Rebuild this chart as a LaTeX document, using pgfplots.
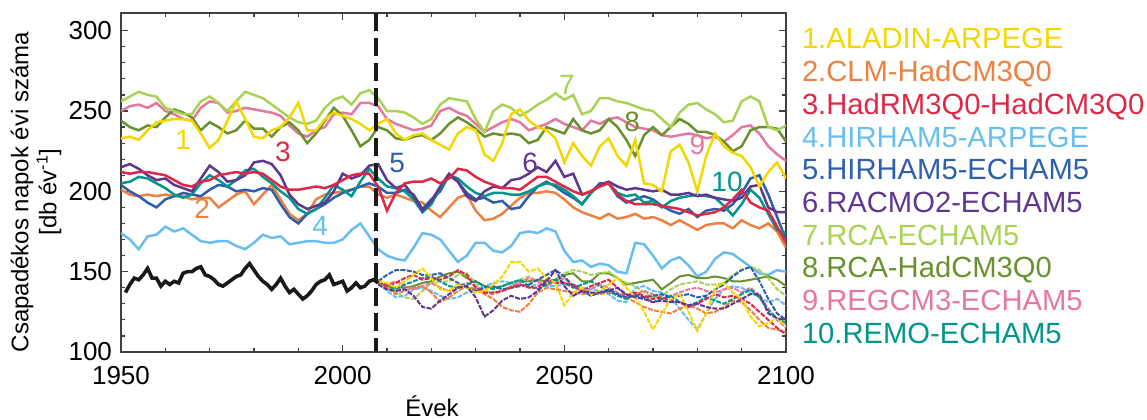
\documentclass[border=0pt]{standalone}
\usepackage{pgfplots}
\pgfplotsset{compat=1.18}
\usepackage{pgfplotstable}
\usepackage{fontspec}
\setmainfont{Liberation Sans}
\definecolor{c1}{RGB}{245,215,0}
\definecolor{c2}{RGB}{238,128,64}
\definecolor{c3}{RGB}{222,40,70}
\definecolor{c4}{RGB}{105,190,240}
\definecolor{c5}{RGB}{45,95,170}
\definecolor{c6}{RGB}{95,55,145}
\definecolor{c7}{RGB}{170,210,85}
\definecolor{c8}{RGB}{105,145,45}
\definecolor{c9}{RGB}{230,120,160}
\definecolor{c10}{RGB}{0,150,140}
\pgfplotstableread{
year s1 s2 s3 s4 s5 s6 s7 s8 s9 s10
1950 233 201 212 174 204 215 256 244 250 205
1952 234 198 211 170 200 217 259 240 253 206
1954 232 197 212 164 197 214 262 238 254 209
1956 238 198 212 172 193 210 260 241 252 208
1958 243 197 211 173 190 207 259 240 255 205
1960 244 198 210 178 195 208 252 246 250 202
1962 245 197 207 175 197 204 250 251 248 198
1964 245 197 204 177 199 202 248 249 245 196
1966 244 195 203 173 198 200 248 246 244 198
1968 236 196 206 169 197 208 256 238 252 205
1970 227 196 207 168 201 216 259 243 256 210
1972 232 190 210 169 204 212 255 240 255 207
1974 244 194 211 169 203 206 250 236 249 203
1976 256 198 212 166 200 207 256 238 250 207
1978 245 200 211 164 201 210 262 244 252 213
1980 234 192 212 168 200 218 260 239 251 214
1982 233 198 211 173 202 219 258 239 250 209
1984 238 204 207 171 201 217 254 234 249 205
1986 240 195 203 172 192 210 250 240 247 200
1988 246 186 201 167 184 198 246 243 241 196
1990 255 182 201 168 180 192 243 238 236 189
1992 238 186 202 169 186 189 242 230 234 186
1994 238 195 203 169 189 191 244 236 238 189
1996 245 198 202 168 192 193 252 244 240 196
1998 249 199 204 168 196 200 257 252 248 204
2000 247 200 207 170 199 211 259 247 249 201
2002 245 201 210 176 201 208 254 238 248 197
2004 242 203 211 180 203 210 261 228 255 206
2006 238 203 211 172 205 216 263 232 255 214
2008 242 198 203 164 203 217 258 240 253 208
2010 245 196 188 160 199 207 250 238 245 203
2012 236 198 199 158 199 202 250 233 242 202
2014 232 196 205 157 201 204 249 232 240 200
2016 235 194 206 165 198 197 246 234 238 195
2018 236 193 206 174 189 188 242 235 239 187
2020 232 188 208 173 195 194 245 232 241 192
2022 229 184 205 170 200 203 254 236 250 202
2024 226 190 208 163 210 211 258 242 252 210
2026 236 196 214 156 206 206 257 246 249 208
2028 240 198 213 160 199 197 256 243 247 203
2030 238 188 209 168 195 194 245 239 242 199
2032 223 182 206 168 196 200 237 234 237 197
2034 219 183 204 163 193 203 250 236 240 199
2036 230 186 202 162 194 202 254 235 243 199
2038 248 191 202 166 189 207 252 236 245 198
2040 251 196 201 174 190 208 247 235 243 198
2042 244 199 205 175 197 211 250 230 238 200
2044 240 199 209 174 203 215 254 232 240 203
2046 238 200 209 177 206 212 257 240 242 205
2048 233 199 206 175 203 219 261 238 245 204
2050 218 195 203 163 199 209 257 236 242 201
2052 230 190 200 156 196 211 260 245 240 197
2054 222 187 198 157 192 198 248 238 238 192
2056 216 185 200 153 199 200 250 236 244 199
2058 228 183 203 155 205 204 258 238 242 204
2060 233 186 205 154 205 206 258 245 245 205
2062 222 183 198 150 197 203 256 240 246 199
2064 216 184 194 149 193 201 255 232 243 197
2066 232 186 192 168 195 202 253 222 240 198
2068 205 183 192 167 197 201 251 235 239 193
2070 204 184 192 160 195 200 250 240 238 194
2072 200 182 191 152 191 201 245 235 235 190
2074 225 179 190 157 188 198 240 240 234 194
2076 229 182 189 159 186 198 249 245 235 196
2078 218 179 187 154 189 199 254 242 236 197
2080 200 176 185 147 184 197 255 237 235 198
2082 222 179 186 150 188 198 251 237 233 197
2084 236 180 187 158 189 196 248 235 234 196
2086 228 180 190 162 188 195 243 231 231 191
2088 224 177 195 161 192 194 244 225 235 185
2090 222 182 201 157 199 196 256 228 240 192
2092 215 179 193 153 208 203 259 238 241 201
2094 203 177 190 149 210 204 256 240 236 196
2096 212 180 188 148 198 190 240 240 228 186
2098 218 175 178 151 184 187 238 239 223 176
2100 208 165 168 150 170 187 241 231 219 174
}\models
\pgfplotstableread{
year c1 c2 c3 c4 c5 c6 c7 c8 c9 c10
2008 144 144 144 143 144 142 145 144 144 144
2010 143 140 141 138 148 139 142 141 142 141
2012 140 136 143 134 151 138 137 140 144 139
2014 144 138 146 135 151 139 134 140 141 142
2016 148 140 148 139 150 135 133 141 139 144
2018 152 141 145 140 148 128 138 143 141 146
2020 146 137 146 138 148 127 143 144 143 147
2022 139 131 145 135 149 132 144 147 140 144
2024 138 134 147 133 146 136 144 149 138 141
2026 142 138 151 134 143 140 148 150 141 140
2028 140 141 148 137 140 141 149 146 143 142
2030 137 139 140 139 138 134 143 144 141 144
2032 138 136 137 141 140 122 138 141 137 141
2034 142 133 137 143 141 126 137 140 136 139
2036 147 128 138 144 139 132 138 141 138 141
2038 156 126 140 143 140 135 141 143 141 143
2040 156 125 142 142 141 133 145 144 143 145
2042 150 130 140 141 142 134 147 144 146 141
2044 152 137 140 142 145 138 144 145 144 139
2046 146 140 145 141 148 144 142 144 141 142
2048 143 139 143 141 151 151 144 145 144 145
2050 129 138 143 142 147 141 149 148 146 143
2052 137 137 142 142 141 135 151 149 141 140
2054 140 136 138 140 138 138 150 144 137 142
2056 136 137 141 139 135 137 148 144 139 144
2058 138 136 143 138 137 137 149 149 142 141
2060 142 137 145 136 139 138 150 149 140 138
2062 146 136 140 132 136 140 146 146 137 135
2064 140 134 135 131 134 136 143 142 134 133
2066 134 131 137 140 135 134 141 143 136 136
2068 125 128 135 141 134 133 137 144 138 134
2070 114 126 133 138 135 131 134 145 136 131
2072 124 125 134 137 136 132 135 139 133 133
2074 133 124 132 134 134 131 139 143 135 135
2076 136 127 131 127 135 131 142 147 137 131
2078 125 129 128 120 136 129 143 148 139 129
2080 113 127 130 114 134 130 144 146 140 131
2082 124 124 133 124 135 128 142 146 138 134
2084 140 125 136 133 139 127 142 147 137 132
2086 143 128 134 139 142 127 143 146 139 130
2088 137 132 135 141 147 130 148 144 140 133
2090 133 131 133 140 151 133 151 144 137 136
2092 122 126 130 137 153 136 153 145 140 139
2094 116 120 125 134 144 136 151 146 135 134
2096 118 115 120 131 133 124 146 147 127 126
2098 121 114 115 133 124 121 139 145 120 121
2100 116 112 111 129 120 120 135 141 115 118
}\corrected
\pgfplotstableread{
year obs
1951 137
1952 142
1953 146
1954 145
1955 148
1956 152
1957 146
1958 146
1959 141
1960 144
1961 142
1962 144
1963 143
1964 149
1965 150
1966 150
1967 152
1968 153
1969 148
1970 147
1971 145
1972 142
1973 141
1974 143
1975 145
1976 147
1977 148
1978 152
1979 155
1980 151
1981 147
1982 144
1983 142
1984 139
1985 142
1986 146
1987 141
1988 137
1989 139
1990 136
1991 133
1992 135
1993 138
1994 142
1995 144
1996 145
1997 148
1998 142
1999 143
2000 144
2001 138
2002 140
2003 143
2004 140
2005 141
2006 144
2007 145
2008 143
}\observed
\begin{document}
\begin{tikzpicture}
\begin{axis}[
  at={(0,0)}, anchor=south west,
  scale only axis, width=332.5pt, height=169.5pt,
  xmin=1950, xmax=2100, ymin=100, ymax=311,
  xtick={1950,2000,2050,2100}, ytick={100,150,200,250,300},
  minor xtick={1960,1970,...,2090}, minor ytick={110,120,...,300},
  tick align=inside, major tick length=3.5pt, minor tick length=2.2pt,
  axis line style={black!75, line width=0.8pt},
  every tick/.style={black!75, line width=0.6pt},
  ticklabel style={font=\fontsize{13}{14}\selectfont},
  xticklabel style={yshift=-3.5pt},
  yticklabel style={xshift=-1pt},
  /pgf/number format/assume math mode=true,
  /pgf/number format/1000 sep={},
  no markers,
]
\addplot[c4, line width=1.25pt] table[x=year, y=s4] {\models};
\addplot[c2, line width=1.25pt] table[x=year, y=s2] {\models};
\addplot[c5, line width=1.25pt] table[x=year, y=s5] {\models};
\addplot[c10, line width=1.25pt] table[x=year, y=s10] {\models};
\addplot[c6, line width=1.25pt] table[x=year, y=s6] {\models};
\addplot[c3, line width=1.25pt] table[x=year, y=s3] {\models};
\addplot[c9, line width=1.25pt] table[x=year, y=s9] {\models};
\addplot[c8, line width=1.25pt] table[x=year, y=s8] {\models};
\addplot[c7, line width=1.25pt] table[x=year, y=s7] {\models};
\addplot[c1, line width=1.25pt] table[x=year, y=s1] {\models};
\addplot[c8, line width=1pt] table[x=year, y=c8] {\corrected};
\addplot[c7, line width=1pt, dash pattern=on 2.5pt off 0.7pt] table[x=year, y=c7] {\corrected};
\addplot[c4, line width=1pt, dash pattern=on 2.5pt off 0.7pt] table[x=year, y=c4] {\corrected};
\addplot[c2, line width=1pt, dash pattern=on 2.5pt off 0.7pt] table[x=year, y=c2] {\corrected};
\addplot[c9, line width=1pt, dash pattern=on 2.5pt off 0.7pt] table[x=year, y=c9] {\corrected};
\addplot[c10, line width=1pt, dash pattern=on 2.5pt off 0.7pt] table[x=year, y=c10] {\corrected};
\addplot[c5, line width=1pt, dash pattern=on 2.5pt off 0.7pt] table[x=year, y=c5] {\corrected};
\addplot[c3, line width=1pt, dash pattern=on 2.5pt off 0.7pt] table[x=year, y=c3] {\corrected};
\addplot[c1, line width=1pt, dash pattern=on 2.5pt off 0.7pt] table[x=year, y=c1] {\corrected};
\addplot[c6, line width=1pt, dash pattern=on 2.5pt off 0.7pt] table[x=year, y=c6] {\corrected};
\addplot[black!90, line width=1.8pt] table[x=year, y=obs] {\observed};
\addplot[black!90, line width=1.6pt, dash pattern=on 9pt off 3.5pt] coordinates {(2007.5,311) (2007.5,100)};
\begin{scope}[font=\fontsize{14}{16}\selectfont]
\node[text=c1] at (axis cs:1964,232) {1};
\node[text=c2] at (axis cs:1968.3,189.4) {2};
\node[text=c3] at (axis cs:1986.5,224.4) {3};
\node[text=c4] at (axis cs:1994.9,178.3) {4};
\node[text=c5] at (axis cs:2012.3,217.5) {5};
\node[text=c6] at (axis cs:2042.3,217.5) {6};
\node[text=c7] at (axis cs:2050.6,266.4) {7};
\node[text=c8] at (axis cs:2065.3,243.3) {8};
\node[text=c9] at (axis cs:2080,229) {9};
\node[text=c10] at (axis cs:2086.7,205.9) {10};
\end{scope}
\end{axis}
\node[rotate=90, align=center, font=\fontsize{12}{14}\selectfont] at (-42.5pt,80pt) {Csapadékos napok évi száma\\{[}db év\textsuperscript{-1}{]}};
\node[anchor=base, inner sep=0pt, font=\fontsize{12}{14}\selectfont] at (155.5pt,-32pt) {Évek};
\begin{scope}[font=\fontsize{14.6}{16}\selectfont, inner sep=0pt, anchor=base west]
\node[text=c1, anchor=base west] at (340.3pt,151.55pt) {1.ALADIN-ARPEGE};
\node[text=c2, anchor=base west] at (340.3pt,135.2pt) {2.CLM-HadCM3Q0};
\node[text=c3, anchor=base west] at (340.3pt,118.85pt) {3.HadRM3Q0-HadCM3Q0};
\node[text=c4, anchor=base west] at (340.3pt,102.5pt) {4.HIRHAM5-ARPEGE};
\node[text=c5, anchor=base west] at (340.3pt,86.15pt) {5.HIRHAM5-ECHAM5};
\node[text=c6, anchor=base west] at (340.3pt,69.8pt) {6.RACMO2-ECHAM5};
\node[text=c7, anchor=base west] at (340.3pt,53.45pt) {7.RCA-ECHAM5};
\node[text=c8, anchor=base west] at (340.3pt,37.1pt) {8.RCA-HadCM3Q0};
\node[text=c9, anchor=base west] at (340.3pt,20.75pt) {9.REGCM3-ECHAM5};
\node[text=c10, anchor=base west] at (340.3pt,4.4pt) {10.REMO-ECHAM5};
\end{scope}
\pgfresetboundingbox
\useasboundingbox (-60.5pt,-33.5pt) rectangle (513pt,176pt);
\end{tikzpicture}
\end{document}
